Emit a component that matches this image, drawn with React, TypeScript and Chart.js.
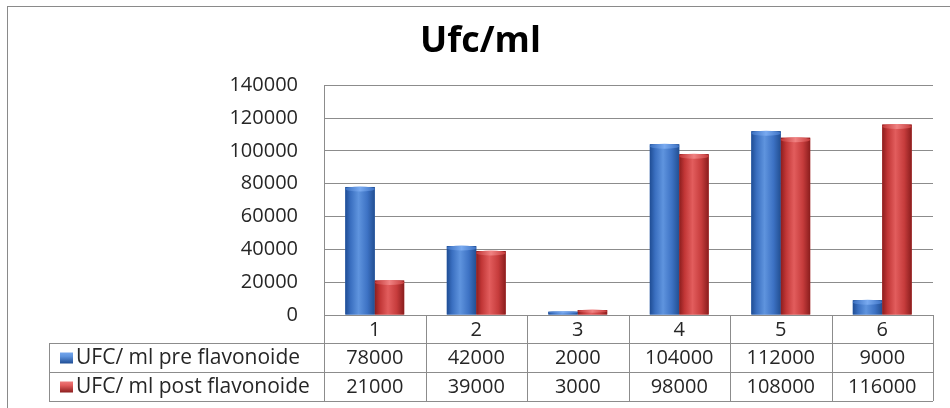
import React, { useEffect, useRef } from "react";
import { Chart, registerables } from "chart.js";

Chart.register(...registerables);

const categories = ["1", "2", "3", "4", "5", "6"];
const seriesNames = ["UFC/ ml pre flavonoide", "UFC/ ml post flavonoide"];
const preValues = [78000, 42000, 2000, 104000, 112000, 9000];
const postValues = [21000, 39000, 3000, 98000, 108000, 116000];
const yTicks = [0, 20000, 40000, 60000, 80000, 100000, 120000, 140000];
const chartTitle = "Ufc/ml";

const FONT = '"Open Sans", "Liberation Sans", sans-serif';
const LINE = "#8c8c8c";
const TEXT = "#262626";

const palettes = [
  { base: "#3a6fc0", stops: ["#1f4d94", "#3a6fc0", "#5f94de", "#3d72c4", "#224f92"], cap: "#79aaf0" },
  { base: "#c43a3a", stops: ["#8c1e1e", "#c13636", "#e25d5d", "#c63c3c", "#8a1d1d"], cap: "#f08282" },
];

const framePlugin = {
  id: "frame",
  beforeDraw(chart: any) {
    const ctx = chart.ctx;
    ctx.save();
    ctx.fillStyle = "#ffffff";
    ctx.fillRect(0, 0, chart.width, chart.height);
    ctx.strokeStyle = "#8a8a8a";
    ctx.lineWidth = 1;
    ctx.strokeRect(7.5, 6.5, chart.width + 10, chart.height + 10);
    ctx.restore();
  },
};

const barStylePlugin = {
  id: "barStyle",
  afterDatasetsDraw(chart: any) {
    const ctx = chart.ctx;
    ctx.save();
    chart.data.datasets.forEach((ds: any, di: number) => {
      const meta = chart.getDatasetMeta(di);
      const pal = palettes[di];
      meta.data.forEach((el: any) => {
        const { x, y, base, width } = el.getProps(["x", "y", "base", "width"], true);
        const left = x - width / 2;
        const g = ctx.createLinearGradient(left, 0, left + width, 0);
        const pos = [0, 0.18, 0.45, 0.75, 1];
        for (let i = 0; i < pal.stops.length; i++) g.addColorStop(pos[i], pal.stops[i]);
        ctx.fillStyle = g;
        ctx.fillRect(left, y, width, base - y);
        const h = Math.min(4, (base - y) / 2);
        if (h > 0.5) {
          const cg = ctx.createLinearGradient(left, 0, left + width, 0);
          cg.addColorStop(0, pal.stops[1]);
          cg.addColorStop(0.5, pal.cap);
          cg.addColorStop(1, pal.stops[3]);
          ctx.fillStyle = cg;
          ctx.beginPath();
          ctx.ellipse(x, y + h / 2, width / 2, h / 2 + 0.5, 0, 0, Math.PI * 2);
          ctx.fill();
        }
      });
    });
    ctx.restore();
  },
};

const tablePlugin = {
  id: "dataTable",
  afterDraw(chart: any) {
    const ctx = chart.ctx;
    const area = chart.chartArea;
    const xs = chart.scales.x;
    const top = area.bottom;
    const rows = [top, top + 28, top + 57, top + 86];
    const tableLeft = 49;
    const n = categories.length;
    const colW = (area.right - area.left) / n;
    ctx.save();
    ctx.strokeStyle = LINE;
    ctx.lineWidth = 1;
    ctx.beginPath();
    ctx.moveTo(area.left, Math.round(area.top) + 0.5);
    ctx.lineTo(area.right, Math.round(area.top) + 0.5);
    ctx.moveTo(area.left, Math.round(rows[0]) + 0.5);
    ctx.lineTo(area.right, Math.round(rows[0]) + 0.5);
    for (let r = 1; r < rows.length; r++) {
      ctx.moveTo(tableLeft, Math.round(rows[r]) + 0.5);
      ctx.lineTo(area.right, Math.round(rows[r]) + 0.5);
    }
    for (let i = 0; i <= n; i++) {
      const vx = Math.round(area.left + i * colW) + 0.5;
      ctx.moveTo(vx, rows[0]);
      ctx.lineTo(vx, rows[3]);
    }
    ctx.moveTo(tableLeft + 0.5, rows[1]);
    ctx.lineTo(tableLeft + 0.5, rows[3]);
    ctx.stroke();

    ctx.fillStyle = TEXT;
    ctx.font = `20px ${FONT}`;
    ctx.textAlign = "center";
    ctx.textBaseline = "middle";
    const series = [preValues, postValues];
    categories.forEach((c, i) => {
      const cx = xs.getPixelForValue(i);
      ctx.fillText(c, cx, (rows[0] + rows[1]) / 2 + 1);
      series.forEach((vals, s) => {
        ctx.fillText(String(vals[i]), cx, (rows[s + 1] + rows[s + 2]) / 2 + 1);
      });
    });
    ctx.textAlign = "left";
    ctx.font = `21px ${FONT}`;
    seriesNames.forEach((name, s) => {
      const cy = (rows[s + 1] + rows[s + 2]) / 2;
      const pal = palettes[s];
      const g = ctx.createLinearGradient(0, cy - 6, 0, cy + 6);
      g.addColorStop(0, pal.cap);
      g.addColorStop(0.4, pal.stops[2]);
      g.addColorStop(1, pal.stops[0]);
      ctx.fillStyle = g;
      ctx.fillRect(60, cy - 5, 13, 11);
      ctx.fillStyle = TEXT;
      ctx.fillText(name, 76, cy + 1);
    });
    ctx.restore();
  },
};

export default function App() {
  const ref = useRef<HTMLCanvasElement | null>(null);
  useEffect(() => {
    document.body.style.margin = "0";
    if (!ref.current) return;
    const chart = new Chart(ref.current, {
      type: "bar",
      data: {
        labels: categories,
        datasets: [
          { label: seriesNames[0], data: preValues, backgroundColor: palettes[0].base },
          { label: seriesNames[1], data: postValues, backgroundColor: palettes[1].base },
        ],
      },
      options: {
        responsive: false,
        animation: false,
        devicePixelRatio: 1,
        layout: { padding: { left: 28, right: 17, top: 0, bottom: 93 } },
        datasets: { bar: { categoryPercentage: 0.58, barPercentage: 1.0 } },
        plugins: {
          legend: { display: false },
          tooltip: { enabled: false },
          title: {
            display: true,
            text: chartTitle,
            color: "#000000",
            font: { family: FONT, size: 36, weight: "bold" },
            padding: { top: 20, bottom: 22 },
          },
        },
        scales: {
          x: { display: false },
          y: {
            min: 0,
            max: 140000,
            afterBuildTicks: (scale: any) => {
              scale.ticks = yTicks.map((v) => ({ value: v }));
            },
            afterFit: (scale: any) => {
              scale.width = 296;
            },
            ticks: {
              padding: 26,
              color: TEXT,
              font: { family: FONT, size: 20 },
              callback: (v: any) => String(v),
            },
            grid: { color: LINE, drawTicks: false },
            border: { display: true, color: LINE },
          },
        },
      },
      plugins: [framePlugin, barStylePlugin, tablePlugin],
    });
    return () => chart.destroy();
  }, []);
  return (
    <div style={{ width: 950, height: 408 }}>
      <canvas ref={ref} width={950} height={408} style={{ display: "block" }} />
    </div>
  );
}
